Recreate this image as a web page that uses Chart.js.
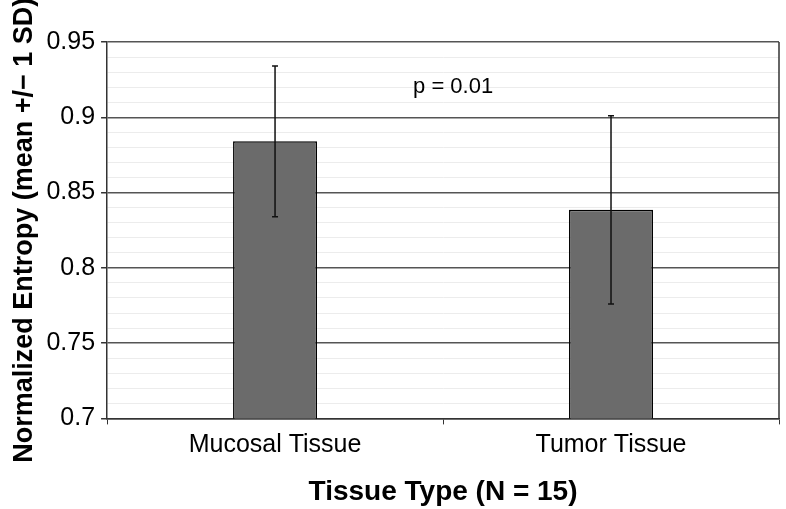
<!DOCTYPE html>
<html>
<head>
<meta charset="utf-8">
<script src="https://cdn.jsdelivr.net/npm/chart.js@4/dist/chart.umd.min.js"></script>
<style>
  html, body { margin: 0; padding: 0; background: #fff; }
  #wrap { width: 786px; height: 509px; }
</style>
</head>
<body>
<div id="wrap"><canvas id="myChart" width="786" height="509"></canvas></div>
<script>
// data
var tissueTypes = ["Mucosal Tissue", "Tumor Tissue"];
var meanEntropy = [0.884, 0.8385];
var sdEntropy = [0.050, 0.0625];
var pText = "p = 0.01";
var pAt = [0.53, 0.92]; // category index, value

var fontName = "'Liberation Sans', Arial, sans-serif";

function isMajor(v) {
  return Math.abs(v * 20 - Math.round(v * 20)) < 1e-6;
}

var errorBars = {
  id: "errorBars",
  afterDatasetsDraw: function (chart) {
    var ctx = chart.ctx;
    var y = chart.scales.y;
    var meta = chart.getDatasetMeta(0);
    ctx.save();
    ctx.strokeStyle = "#111";
    ctx.lineWidth = 1.5;
    for (var i = 0; i < meanEntropy.length; i++) {
      var x = meta.data[i].x;
      var top = y.getPixelForValue(meanEntropy[i] + sdEntropy[i]);
      var bot = y.getPixelForValue(meanEntropy[i] - sdEntropy[i]);
      ctx.beginPath();
      ctx.moveTo(x, top); ctx.lineTo(x, bot);
      ctx.moveTo(x - 3, top); ctx.lineTo(x + 3, top);
      ctx.moveTo(x - 3, bot); ctx.lineTo(x + 3, bot);
      ctx.stroke();
    }
    // right edge of the plot box
    var a = chart.chartArea;
    ctx.strokeStyle = "#333";
    ctx.lineWidth = 1.5;
    ctx.beginPath();
    ctx.moveTo(a.right, a.top);
    ctx.lineTo(a.right, a.bottom);
    ctx.stroke();
    // p value note
    ctx.fillStyle = "#000";
    ctx.font = "22px " + fontName;
    ctx.textAlign = "center";
    ctx.textBaseline = "middle";
    ctx.fillText(pText, chart.scales.x.getPixelForValue(pAt[0]), y.getPixelForValue(pAt[1]));
    ctx.restore();
  }
};

var ctx = document.getElementById("myChart");
var myChart = new Chart(ctx, {
  type: "bar",
  data: {
    labels: tissueTypes,
    datasets: [{
      data: meanEntropy,
      backgroundColor: "#6b6b6b",
      borderColor: "#000",
      borderWidth: 1.5,
      barPercentage: 0.25,
      categoryPercentage: 1
    }]
  },
  options: {
    responsive: false,
    animation: false,
    layout: { padding: { left: 8, right: 7, top: 42, bottom: 0 } },
    plugins: {
      legend: { display: false },
      tooltip: { enabled: false }
    },
    scales: {
      x: {
        offset: true,
        grid: {
          offset: true,
          drawOnChartArea: false,
          color: "#333",
          tickLength: 6
        },
        border: { color: "#333", width: 1.5 },
        ticks: {
          color: "#000",
          font: { family: fontName, size: 25 },
          padding: 6
        },
        title: {
          display: true,
          text: "Tissue Type (N = 15)",
          color: "#000",
          font: { family: fontName, size: 28, weight: "bold" },
          padding: { top: 9, bottom: 0 }
        }
      },
      y: {
        min: 0.7,
        max: 0.95,
        grid: {
          color: function (c) { return isMajor(c.tick.value) ? "#555" : "#ececec"; },
          lineWidth: function (c) { return isMajor(c.tick.value) ? 1.5 : 1; },
          tickColor: function (c) { return isMajor(c.tick.value) ? "#333" : "rgba(0,0,0,0)"; },
          tickLength: 6
        },
        border: { color: "#333", width: 1.5 },
        ticks: {
          stepSize: 0.01,
          autoSkip: false,
          color: "#000",
          padding: 6,
          font: { family: fontName, size: 25 },
          callback: function (v) {
            return isMajor(v) ? String(Math.round(v * 100) / 100) : "";
          }
        },
        title: {
          display: true,
          text: "Normalized Entropy (mean +/\u2212 1 SD)",
          color: "#000",
          font: { family: fontName, size: 27, weight: "bold" },
          padding: { top: 0, bottom: 0 }
        }
      }
    }
  },
  plugins: [errorBars]
});
</script>
</body>
</html>
